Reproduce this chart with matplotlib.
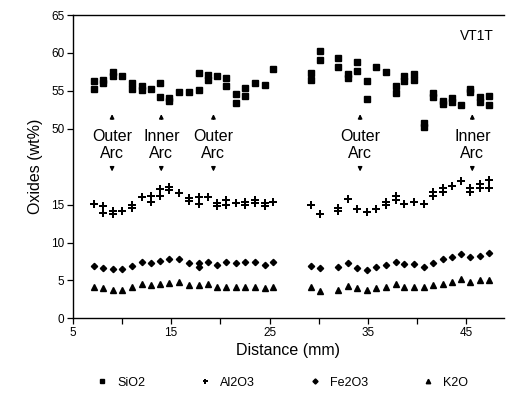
import matplotlib
matplotlib.use("Agg")
import matplotlib.pyplot as plt
from matplotlib.lines import Line2D

plt.rcParams['font.family'] = ['Liberation Sans', 'DejaVu Sans']

# distance along the traverse (mm)
dist = [7.2, 8.1, 9.1, 10.0, 11.0, 12.0, 13.0, 13.9, 14.8, 15.8,
        16.8, 17.8, 18.7, 19.7, 20.6, 21.6, 22.5, 23.5, 24.5, 25.4,
        29.2, 30.1, 32.0, 33.0, 33.9, 34.9, 35.8, 36.8, 37.8, 38.7,
        39.7, 40.7, 41.6, 42.6, 43.5, 44.5, 45.4, 46.4, 47.3]

# one or two analyses at each distance
sio2 = [[56.3, 55.3], [56.4, 56.0], [57.5, 57.0], [56.9], [56.0, 55.2],
        [55.6, 55.1], [55.3], [56.0, 54.2], [54.0, 53.6], [54.9],
        [54.9], [57.4, 55.1], [57.1, 56.5], [57.0], [56.7, 55.7],
        [54.6, 53.4], [55.4, 54.3], [56.1], [55.8], [57.9],
        [57.3, 56.5], [60.2, 59.1], [59.3, 58.2], [57.2, 56.7], [58.8, 57.6],
        [56.3, 53.9], [58.1], [57.5], [55.6, 54.7], [56.9, 56.3],
        [57.2, 56.5], [50.8, 50.2], [54.7, 54.2], [53.7, 53.3], [54.0, 53.5],
        [53.1], [55.2, 54.8], [54.2, 53.5], [54.3, 53.1]]
al2o3 = [[15.1], [14.8, 13.9], [14.1, 13.8], [14.2], [14.9, 14.5],
         [16.0], [16.1, 15.4], [17.0, 16.2], [17.3, 16.9], [16.5],
         [15.9, 15.5], [16.0, 15.1], [16.0], [15.2, 14.8], [15.6, 15.0],
         [15.2], [15.4, 15.0], [15.6, 15.2], [15.2, 14.8], [15.4],
         [14.9], [13.8], [14.6, 14.1], [15.7], [14.4],
         [14.0], [14.4], [15.4, 14.9], [16.1, 15.6], [15.1],
         [15.3], [15.1], [16.6, 16.1], [17.2, 16.7], [17.5],
         [18.1], [17.2, 16.7], [17.7, 17.2], [18.2, 17.2]]
fe2o3 = [[6.9], [6.6], [6.5], [6.5], [6.9], [7.5], [7.3], [7.6], [7.8], [7.8],
         [7.3], [7.3, 6.8], [7.4], [7.1], [7.4], [7.3], [7.4], [7.4], [7.1], [7.5],
         [6.9], [6.7], [6.8], [7.3], [6.6], [6.4], [6.8], [7.1], [7.5], [7.2],
         [7.2], [6.8], [7.3], [7.8], [8.1], [8.5], [8.1], [8.2], [8.6]]
k2o = [4.1, 4.0, 3.7, 3.7, 4.1, 4.5, 4.4, 4.5, 4.7, 4.8,
       4.4, 4.4, 4.5, 4.1, 4.2, 4.1, 4.1, 4.2, 4.0, 4.1,
       4.1, 3.6, 3.7, 4.3, 4.0, 3.8, 4.0, 4.2, 4.5, 4.2,
       4.2, 4.2, 4.4, 4.6, 4.8, 5.2, 4.8, 5.0, 5.0]

arc_x = [9.0, 14.0, 19.3, 34.2, 45.6]
arc_names = ['Outer', 'Inner', 'Outer', 'Outer', 'Inner']

ytick_vals = [0, 5, 10, 15, 50, 55, 60, 65]


def tr(v):
    # broken y axis: 15..50 squeezed so 50 sits 10 units above 15
    return v if v < 30 else v - 25


def flat(xs, groups):
    px, py = [], []
    for x, g in zip(xs, groups):
        for v in g:
            px.append(x)
            py.append(tr(v))
    return px, py


fig = plt.figure(figsize=(5.12, 3.96), dpi=100)
ax = fig.add_axes([0.142, 0.196, 0.842, 0.766])

x, y = flat(dist, sio2)
ax.plot(x, y, 's', color='black', ms=4.5, ls='none')
x, y = flat(dist, al2o3)
ax.plot(x, y, 'P', color='black', ms=5.5, mew=0, ls='none')
x, y = flat(dist, fe2o3)
ax.plot(x, y, 'D', color='black', ms=3.2, ls='none')
ax.plot(dist, k2o, '^', color='black', ms=4.0, ls='none')

for xa, name in zip(arc_x, arc_names):
    ax.annotate('', xy=(xa, 27.3), xytext=(xa, 25.9),
                arrowprops=dict(arrowstyle='-|>', color='black', lw=1.0,
                                mutation_scale=6))
    ax.text(xa, 24.0, name, ha='center', va='center', fontsize=11.5)
    ax.text(xa, 21.7, 'Arc', ha='center', va='center', fontsize=11.5)
    ax.annotate('', xy=(xa, 19.0), xytext=(xa, 20.3),
                arrowprops=dict(arrowstyle='-|>', color='black', lw=1.0,
                                mutation_scale=6))

ax.text(47.8, 37.3, 'VT1T', ha='right', va='center', fontsize=10)

ax.set_xlim(5, 48.8)
ax.set_ylim(0, 40)
ax.set_xticks([5, 10, 15, 20, 25, 30, 35, 40, 45])
ax.set_xticklabels(['5', '', '15', '', '25', '', '35', '', '45'])
ax.set_yticks([tr(v) for v in ytick_vals])
ax.set_yticklabels([str(v) for v in ytick_vals])
ax.tick_params(labelsize=8.5, length=4, width=0.9, direction='out', pad=2)
ax.spines['right'].set_visible(False)
for s in ['left', 'bottom', 'top']:
    ax.spines[s].set_linewidth(1.0)

ax.set_xlabel('Distance (mm)', fontsize=11.5, labelpad=3)
ax.set_ylabel('Oxides (wt%)', fontsize=11.5, labelpad=6)

handles = [Line2D([], [], marker='s', color='black', ls='none', ms=3.2),
           Line2D([], [], marker='P', color='black', ls='none', ms=3.6, mew=0),
           Line2D([], [], marker='D', color='black', ls='none', ms=2.6),
           Line2D([], [], marker='^', color='black', ls='none', ms=3.2)]
fig.legend(handles, ['SiO2', 'Al2O3', 'Fe2O3', 'K2O'], loc='lower center',
           bbox_to_anchor=(0.55, -0.01), ncol=4, frameon=False, fontsize=9,
           columnspacing=4.2, handletextpad=0.6, handlelength=1.2)

fig.savefig('out.png', dpi=100)
